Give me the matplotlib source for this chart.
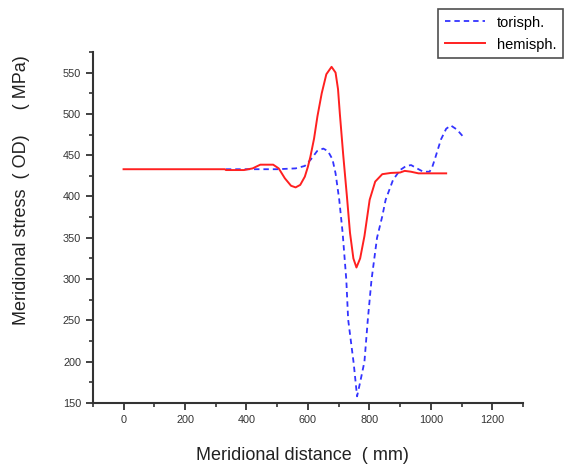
import matplotlib
matplotlib.use("Agg")
import matplotlib.pyplot as plt
from matplotlib.ticker import MultipleLocator

plt.rcParams['font.family'] = ['Liberation Sans', 'DejaVu Sans']

# hemispherical head
hemi_x = [0, 330, 333, 392, 420, 445, 487, 505, 525, 545, 560, 575, 590, 600, 608,
          620, 631, 645, 660, 677, 690, 698, 704, 715, 727, 737, 748, 758, 770, 784,
          801, 819, 842, 870, 900, 915, 935, 960, 1050]
hemi_y = [433, 433, 432, 432, 434, 438.5, 438.5, 434, 422, 413, 411, 414, 424, 436, 448,
          470, 497, 525, 548, 557, 550, 530, 500, 450, 400, 356, 325, 314, 325, 352,
          396, 418, 427, 428.5, 429, 431, 430, 428, 428]

# torispherical head
tori_x = [333, 400, 500, 560, 590, 610, 630, 650, 665, 680, 690, 702, 713, 725, 731,
          749, 760, 770, 784, 795, 807, 825, 842, 853, 877, 900, 920, 936, 955, 975,
          996, 1005, 1013, 1033, 1050, 1065, 1085, 1111]
tori_y = [433, 433, 433, 434, 437, 445, 455, 458, 455, 445, 428, 396, 356, 299, 251,
          198, 158, 175, 200, 251, 299, 350, 376, 396, 420, 432, 437, 438, 434, 430,
          430, 436, 445, 469, 482, 486, 481, 470]

fig = plt.figure(figsize=(5.66, 4.68), dpi=100)
ax = fig.add_axes([0.164, 0.139, 0.76, 0.75])

l1, = ax.plot(tori_x, tori_y, color='#3333ff', lw=1.3, ls=(0, (3, 2.2)), label='torisph.')
l2, = ax.plot(hemi_x, hemi_y, color='#ff2020', lw=1.4, label='hemisph.')

ax.set_xlim(-100, 1300)
ax.set_ylim(150, 575)
ax.xaxis.set_major_locator(MultipleLocator(200))
ax.xaxis.set_minor_locator(MultipleLocator(100))
ax.yaxis.set_major_locator(MultipleLocator(50))
ax.yaxis.set_minor_locator(MultipleLocator(25))
ax.set_yticks([150, 200, 250, 300, 350, 400, 450, 500, 550])

for s in ['top', 'right']:
    ax.spines[s].set_visible(False)
for s in ['left', 'bottom']:
    ax.spines[s].set_linewidth(1.5)
    ax.spines[s].set_color('#333333')
ax.tick_params(which='major', direction='out', length=5, width=1.3, color='#333333',
               labelsize=7.8, labelcolor='#333333')
ax.tick_params(which='minor', direction='out', length=3, width=1.2, color='#333333')

ax.set_xlabel('Meridional distance  ( mm)', fontsize=13, color='#222222')
ax.set_ylabel('Meridional stress  ( OD)     ( MPa)', fontsize=13, color='#222222')
ax.xaxis.set_label_coords(0.487, -0.125)
ax.yaxis.set_label_coords(-0.145, 0.607)

leg = fig.legend(handles=[l1, l2], loc='upper left', bbox_to_anchor=(438 / 566, 1 - 9 / 468),
                 fontsize=10.5, frameon=True, fancybox=False, edgecolor='#222222',
                 handlelength=2.8, borderaxespad=0, borderpad=0.45, labelspacing=0.55)
leg.get_frame().set_linewidth(1.2)

fig.savefig('out.png', dpi=100)
